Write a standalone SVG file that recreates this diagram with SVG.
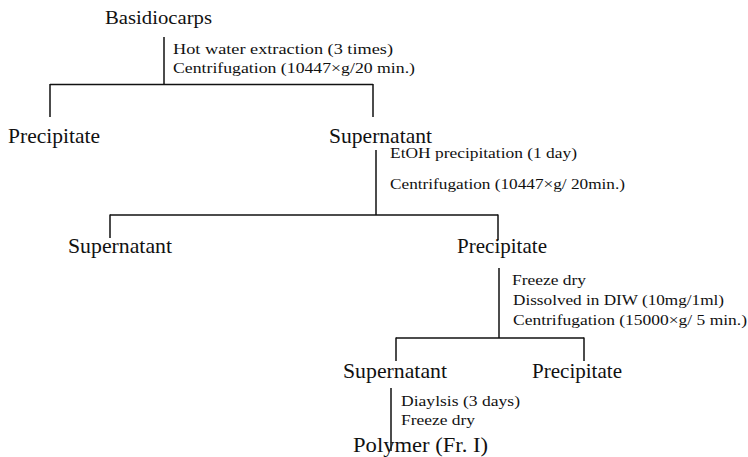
<svg xmlns="http://www.w3.org/2000/svg" width="748" height="457" viewBox="0 0 748 457">
<style>
  .lbl { font-family: "Liberation Serif", "Times New Roman", serif; font-size: 21px; fill: #111; }
  .step { font-family: "Liberation Serif", "Times New Roman", serif; font-size: 14px; fill: #111; }
  .conn line { stroke: #111; stroke-width: 1.5; fill: none; }
</style>
<rect width="748" height="457" fill="#fff"/>
<g id="connectors" class="conn">
  <line x1="164" y1="37" x2="164" y2="84.5"/>
  <line x1="50" y1="84.5" x2="373" y2="84.5"/>
  <line x1="50" y1="84" x2="50" y2="117"/>
  <line x1="373" y1="84" x2="373" y2="117"/>
  <line x1="376" y1="150" x2="376" y2="215"/>
  <line x1="110" y1="215" x2="498" y2="215"/>
  <line x1="110" y1="214.5" x2="110" y2="238"/>
  <line x1="498" y1="214.5" x2="498" y2="240"/>
  <line x1="499" y1="268" x2="499" y2="338"/>
  <line x1="396" y1="338" x2="584" y2="338"/>
  <line x1="396" y1="337.5" x2="396" y2="361"/>
  <line x1="584" y1="337.5" x2="584" y2="361"/>
  <line x1="391" y1="388" x2="391" y2="451"/>
</g>
<g id="basidiocarps"><text class="lbl" style="font-size:19px" x="105" y="24" textLength="107" lengthAdjust="spacingAndGlyphs">Basidiocarps</text></g>
<g id="step1">
  <text class="step" x="173" y="54" textLength="220" lengthAdjust="spacingAndGlyphs">Hot water extraction (3 times)</text>
  <text class="step" x="173" y="73" textLength="242" lengthAdjust="spacingAndGlyphs">Centrifugation (10447×g/20 min.)</text>
</g>
<g id="precipitate1"><text class="lbl" x="8" y="143" textLength="92" lengthAdjust="spacingAndGlyphs">Precipitate</text></g>
<g id="supernatant1"><text class="lbl" x="329" y="143" textLength="103" lengthAdjust="spacingAndGlyphs">Supernatant</text></g>
<g id="step2">
  <text class="step" x="390" y="158" textLength="187" lengthAdjust="spacingAndGlyphs">EtOH precipitation (1 day)</text>
  <text class="step" x="390" y="189" textLength="235" lengthAdjust="spacingAndGlyphs">Centrifugation (10447×g/ 20min.)</text>
</g>
<g id="supernatant2"><text class="lbl" x="68" y="253" textLength="104" lengthAdjust="spacingAndGlyphs">Supernatant</text></g>
<g id="precipitate2"><text class="lbl" x="457" y="253" textLength="90" lengthAdjust="spacingAndGlyphs">Precipitate</text></g>
<g id="step3">
  <text class="step" x="512" y="285" textLength="74" lengthAdjust="spacingAndGlyphs">Freeze dry</text>
  <text class="step" x="513" y="305" textLength="211" lengthAdjust="spacingAndGlyphs">Dissolved in DIW (10mg/1ml)</text>
  <text class="step" x="513" y="325" textLength="234" lengthAdjust="spacingAndGlyphs">Centrifugation (15000×g/ 5 min.)</text>
</g>
<g id="supernatant3"><text class="lbl" x="343" y="378" textLength="104" lengthAdjust="spacingAndGlyphs">Supernatant</text></g>
<g id="precipitate3"><text class="lbl" x="532" y="378" textLength="90" lengthAdjust="spacingAndGlyphs">Precipitate</text></g>
<g id="step4">
  <text class="step" x="401" y="406" textLength="119" lengthAdjust="spacingAndGlyphs">Diaylsis (3 days)</text>
  <text class="step" x="401" y="425" textLength="74" lengthAdjust="spacingAndGlyphs">Freeze dry</text>
</g>
<g id="polymer"><text class="lbl" x="353" y="452" textLength="135" lengthAdjust="spacingAndGlyphs">Polymer (Fr. I)</text></g>
</svg>
